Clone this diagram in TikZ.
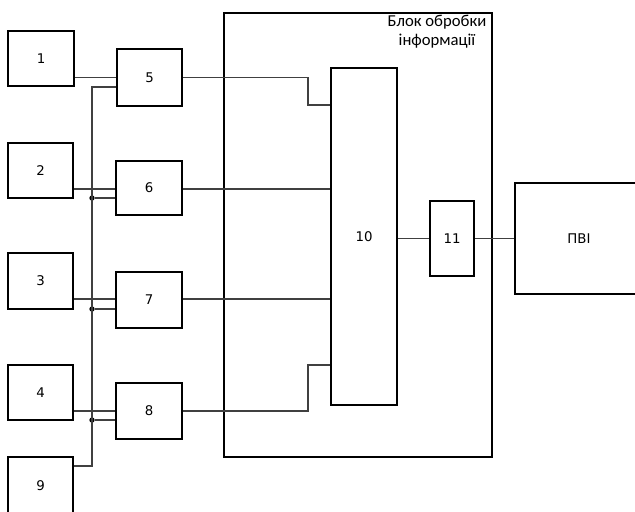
\documentclass[tikz,border=0pt]{standalone}
\usepackage{fontspec}
\setmainfont{DejaVu Sans}
\newfontfamily\titlefont{Carlito}
\begin{document}
\begin{tikzpicture}[x=0.75pt,y=-0.75pt,
  blk/.style={draw=black,line width=1.5pt,inner sep=0pt,font=\fontsize{10}{12}\selectfont},
  wire/.style={draw=black!75,line width=0.8pt},
  junction/.style={circle,fill=black,inner sep=0pt,minimum size=4pt}]
\useasboundingbox (0,0) rectangle (635,511);
\clip (0,0) rectangle (635,511);
% big block
\node[blk,minimum width=268*0.75pt,minimum height=444*0.75pt] (big) at (358,235) {};
\node[font=\titlefont\fontsize{12.5}{14.5}\selectfont,align=center] (title) at (437,32) {Блок обробки\\інформації};
% left boxes
\node[blk,minimum width=66*0.75pt,minimum height=55*0.75pt] (b1) at (41,58.5) {1};
\node[blk,minimum width=65*0.75pt,minimum height=55*0.75pt] (b2) at (40.5,170.5) {2};
\node[blk,minimum width=65*0.75pt,minimum height=56*0.75pt] (b3) at (40.5,281) {3};
\node[blk,minimum width=65*0.75pt,minimum height=55*0.75pt] (b4) at (40.5,392.5) {4};
\node[blk,minimum width=65*0.75pt,minimum height=58*0.75pt] (b9) at (40.5,486) {9};
\node[blk,minimum width=65*0.75pt,minimum height=57*0.75pt] (b5) at (149.5,77.5) {5};
\node[blk,minimum width=66*0.75pt,minimum height=54*0.75pt] (b6) at (149,188) {6};
\node[blk,minimum width=66*0.75pt,minimum height=56*0.75pt] (b7) at (149,300) {7};
\node[blk,minimum width=66*0.75pt,minimum height=56*0.75pt] (b8) at (149,411) {8};
\node[blk,minimum width=66*0.75pt,minimum height=337*0.75pt] (b10) at (364,236.5) {10};
\node[blk,minimum width=44*0.75pt,minimum height=75*0.75pt] (b11) at (452,238.5) {11};
\node[blk,minimum width=130*0.75pt,minimum height=111*0.75pt] (pvi) at (580,238.5) {};
\node[font=\fontsize{10}{12}\selectfont] (pvilabel) at (579,239) {ПВІ};
% bus
\coordinate (busTop) at (92,87);
\coordinate (busBot) at (92,466);
\node[junction] (j6) at (92,198) {};
\node[junction] (j7) at (92,309) {};
\node[junction] (j8) at (92,420) {};
\draw[wire] (b5.west |- busTop) -- (busTop) -- (busBot) -- (b9.east |- busBot);
\draw[wire] (j6) -- (b6.west |- j6);
\draw[wire] (j7) -- (b7.west |- j7);
\draw[wire] (j8) -- (b8.west |- j8);
% inputs
\draw[wire] (b1.east |- b5.west) -- (b5.west);
\draw[wire] (b2.east |- 0,189) -- (b6.west |- 0,189);
\draw[wire] (b3.east |- 0,299) -- (b7.west |- 0,299);
\draw[wire] (b4.east |- b8.west) -- (b8.west);
% to block 10
\draw[wire] (b5.east) -- (308,77.5) -- (308,105) -- (b10.west |- 0,105);
\draw[wire] (b6.east |- 0,189) -- (b10.west |- 0,189);
\draw[wire] (b7.east |- 0,299) -- (b10.west |- 0,299);
\draw[wire] (b8.east) -- (308,411) -- (308,365) -- (b10.west |- 0,365);
\draw[wire] (b10.east |- b11.west) -- (b11.west);
\draw[wire] (b11.east) -- (b11.east -| pvi.west);
\end{tikzpicture}
\end{document}
